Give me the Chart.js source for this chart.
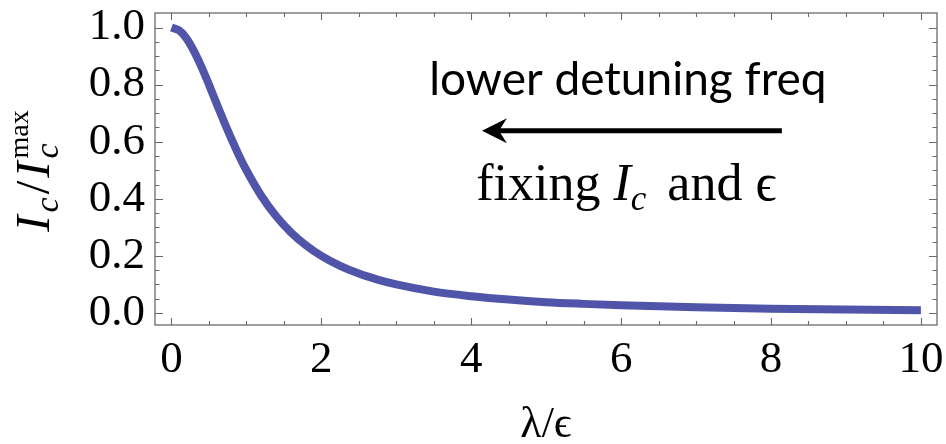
<!DOCTYPE html>
<html>
<head>
<meta charset="utf-8">
<script src="https://cdn.jsdelivr.net/npm/chart.js@4/dist/chart.umd.min.js"></script>
<style>
  html, body { margin: 0; padding: 0; background: #fff; }
  #wrap { width: 946px; height: 444px; }
</style>
</head>
<body>
<div id="wrap"><canvas id="chart"></canvas></div>
<script>
// Normalised critical current vs lambda/epsilon
const lambdaRatio = [0, 0.1, 0.2, 0.3, 0.4, 0.5, 0.6, 0.7, 0.8, 0.9, 1.0, 1.2, 1.4, 1.6, 1.8, 2.0,
  2.25, 2.5, 2.75, 3.0, 3.5, 4.0, 4.5, 5.0, 5.5, 6.0, 7.0, 8.0, 9.0, 10.0];
const currentRatio = [1.0, 0.99, 0.962, 0.917, 0.862, 0.80, 0.735, 0.671, 0.61, 0.552, 0.50, 0.41,
  0.338, 0.281, 0.236, 0.20, 0.165, 0.138, 0.117, 0.10, 0.075, 0.059, 0.047, 0.038, 0.032, 0.027,
  0.02, 0.015, 0.012, 0.01];

const xTickValues = [0, 2, 4, 6, 8, 10];
const yTickValues = [0.0, 0.2, 0.4, 0.6, 0.8, 1.0];

const SERIF = '"Liberation Serif", "Times New Roman", "DejaVu Serif", serif';
const LINE_COLOR = '#5055aa';
const FRAME_COLOR = '#6a6a6a';

// minor tick positions
const xMinor = [];
for (let v = 0; v <= 10.001; v += 0.5) xMinor.push(v);
const yMinor = [];
for (let v = 0; v <= 1.001; v += 0.05) yMinor.push(v);

// draw a run of text pieces (sub/superscripts) starting at x, baseline y
function drawRich(ctx, parts, x, y, align) {
  let total = 0;
  let pending = 0;
  parts.forEach((p) => {
    ctx.font = p.font;
    p.w = ctx.measureText(p.text).width + (p.gap || 0);
    if (p.keep) {
      pending = p.w;
    } else {
      total += Math.max(p.w, pending);
      pending = 0;
    }
  });
  let cx = align === 'center' ? x - total / 2 : x;
  pending = 0;
  ctx.textAlign = 'left';
  ctx.textBaseline = 'alphabetic';
  parts.forEach((p) => {
    ctx.font = p.font;
    ctx.fillText(p.text, cx, y + (p.dy || 0));
    if (p.keep) {
      pending = p.w;
    } else {
      cx += Math.max(p.w, pending);
      pending = 0;
    }
  });
}

// keep the plot box where it is, labels may overhang it
function noScalePadding(s) {
  s.paddingTop = 0;
  s.paddingBottom = 0;
  s.paddingLeft = 0;
  s.paddingRight = 0;
}

const framePlugin = {
  id: 'frame',
  afterDatasetsDraw(chart) {
    const { ctx, chartArea: a, scales } = chart;
    const xs = scales.x, ys = scales.y;
    ctx.save();
    ctx.strokeStyle = FRAME_COLOR;
    ctx.lineWidth = 1.3;
    ctx.strokeRect(a.left, a.top, a.right - a.left, a.bottom - a.top);

    ctx.lineWidth = 1.1;
    ctx.beginPath();
    xMinor.forEach((v) => {
      const px = Math.round(xs.getPixelForValue(v)) + 0.5;
      const len = xTickValues.some((t) => Math.abs(t - v) < 1e-6) ? 7 : 4;
      ctx.moveTo(px, a.bottom); ctx.lineTo(px, a.bottom - len);
      ctx.moveTo(px, a.top); ctx.lineTo(px, a.top + len);
    });
    yMinor.forEach((v) => {
      const py = Math.round(ys.getPixelForValue(v)) + 0.5;
      const len = yTickValues.some((t) => Math.abs(t - v) < 1e-6) ? 8 : 4.5;
      ctx.moveTo(a.left, py); ctx.lineTo(a.left + len, py);
      ctx.moveTo(a.right, py); ctx.lineTo(a.right - len, py);
    });
    ctx.stroke();
    ctx.restore();
  },
  afterDraw(chart) {
    const { ctx, scales } = chart;
    const xs = scales.x, ys = scales.y;
    ctx.save();
    ctx.fillStyle = '#000';

    // y axis title, rotated
    ctx.save();
    ctx.translate(49, 171);
    ctx.rotate(-Math.PI / 2);
    drawRich(ctx, [
      { text: 'I', font: 'italic 49px ' + SERIF, gap: 3 },
      { text: 'c', font: 'italic 34px ' + SERIF, dy: 9, gap: 3 },
      { text: '/', font: '49px ' + SERIF, gap: 3 },
      { text: 'I', font: 'italic 49px ' + SERIF, gap: 3 },
      { text: 'c', font: 'italic 34px ' + SERIF, dy: 9, keep: true },
      { text: 'max', font: '28px ' + SERIF, dy: -21 }
    ], 0, 0, 'center');
    ctx.restore();

    // annotation text
    ctx.font = '46px Lato, "Open Sans", sans-serif';
    ctx.textAlign = 'center';
    ctx.textBaseline = 'alphabetic';
    ctx.fillText('lower detuning freq', xs.getPixelForValue(6.09), ys.getPixelForValue(0.764));

    // arrow pointing towards lower lambda
    const ay = ys.getPixelForValue(0.6385);
    const tail = xs.getPixelForValue(8.145);
    const tip = xs.getPixelForValue(4.143);
    ctx.strokeStyle = '#000';
    ctx.lineWidth = 5;
    ctx.beginPath();
    ctx.moveTo(tail, ay);
    ctx.lineTo(tip + 14, ay);
    ctx.stroke();
    ctx.beginPath();
    ctx.moveTo(tip, ay);
    ctx.lineTo(tip + 25, ay - 12.5);
    ctx.lineTo(tip + 17, ay);
    ctx.lineTo(tip + 25, ay + 12.5);
    ctx.closePath();
    ctx.fill();

    ctx.filter = 'blur(0.6px)';
    drawRich(ctx, [
      { text: 'fixing ', font: '52px ' + SERIF },
      { text: 'I', font: 'italic 52px ' + SERIF },
      { text: 'c', font: 'italic 35px ' + SERIF, dy: 10, gap: 8 },
      { text: ' and ϵ', font: '52px ' + SERIF }
    ], xs.getPixelForValue(6.07), ys.getPixelForValue(0.396), 'center');
    ctx.restore();
  }
};

const points = lambdaRatio.map((x, i) => ({ x, y: currentRatio[i] }));

new Chart(document.getElementById('chart'), {
  type: 'line',
  data: {
    datasets: [{
      data: points,
      borderColor: LINE_COLOR,
      borderWidth: 8,
      borderCapStyle: 'butt',
      pointRadius: 0,
      cubicInterpolationMode: 'monotone',
      fill: false
    }]
  },
  options: {
    responsive: true,
    maintainAspectRatio: false,
    animation: false,
    events: [],
    layout: { autoPadding: false, padding: { top: 13, right: 9, left: 0, bottom: 0 } },
    plugins: {
      legend: { display: false },
      tooltip: { enabled: false }
    },
    scales: {
      x: {
        type: 'linear',
        min: -0.22,
        max: 10.215,
        afterBuildTicks: (s) => { s.ticks = xTickValues.map((v) => ({ value: v })); },
        afterFit: (s) => { s.height = 119; noScalePadding(s); },
        grid: { display: false, drawTicks: false },
        border: { display: false },
        ticks: {
          color: '#000',
          font: { family: SERIF, size: 45 },
          padding: 8,
          maxRotation: 0,
          callback: (v) => String(v)
        },
        title: {
          display: true,
          text: 'λ/ϵ',
          color: '#000',
          font: { family: SERIF, size: 44 },
          padding: { top: 0, bottom: -8 }
        }
      },
      y: {
        min: -0.042,
        max: 1.0508,
        afterBuildTicks: (s) => { s.ticks = yTickValues.map((v) => ({ value: v })); },
        afterFit: (s) => { s.width = 155; noScalePadding(s); },
        grid: { display: false, drawTicks: false },
        border: { display: false },
        ticks: {
          color: '#000',
          font: { family: SERIF, size: 45 },
          padding: 10,
          callback: (v) => v.toFixed(1)
        }
      }
    }
  },
  plugins: [framePlugin]
});
</script>
</body>
</html>
